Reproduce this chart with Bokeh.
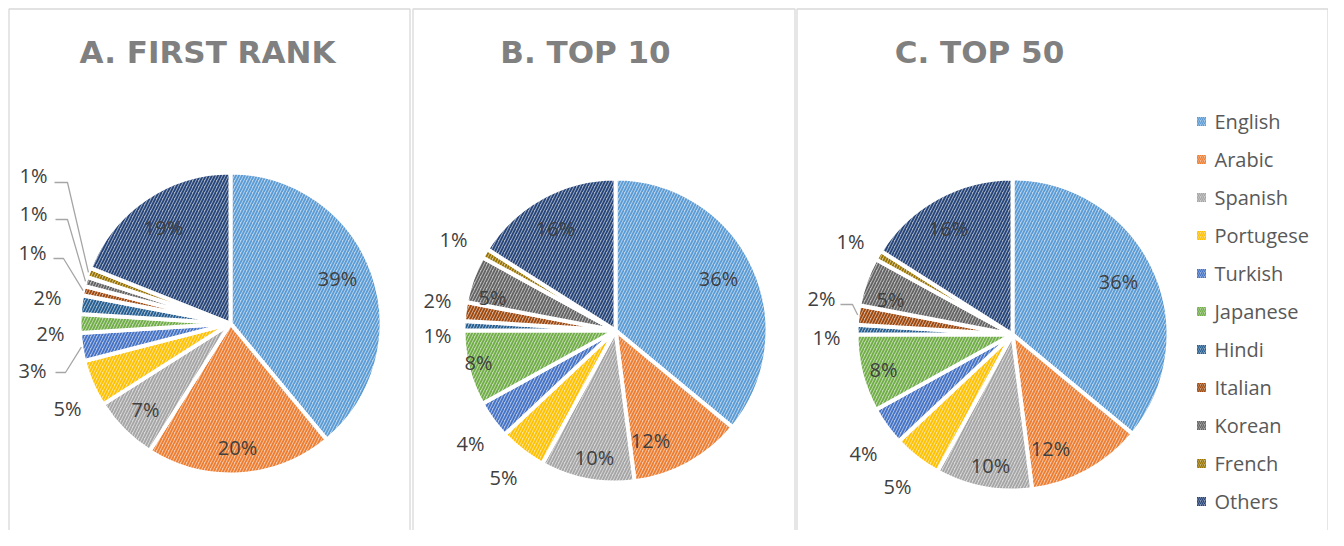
import math
from bokeh.plotting import figure
from bokeh.models import ColumnDataSource, Range1d
from bokeh.embed import file_html
from bokeh.resources import INLINE
from bokeh.core.properties import value

# ---------------- data ----------------
languages = ["English", "Arabic", "Spanish", "Portugese", "Turkish", "Japanese",
             "Hindi", "Italian", "Korean", "French", "Others"]
first_rank = [39, 20, 7, 5, 3, 2, 2, 1, 1, 1, 19]
top_10 = [36, 12, 10, 5, 4, 8, 1, 2, 5, 1, 16]
top_50 = [36, 12, 10, 5, 4, 8, 1, 2, 5, 1, 16]
titles = ["A. FIRST RANK", "B. TOP 10", "C. TOP 50"]

# ---------------- styles ----------------
colors = ["#5B9BD5", "#ED7D31", "#A5A5A5", "#FFC000", "#4472C4", "#70AD47",
          "#255E91", "#9E480E", "#636363", "#997300", "#264478"]
FONT = value("Open Sans")
TITLE_FONT = value("DejaVu Sans")


def tint(c, f=0.6):
    r, g, b = int(c[1:3], 16), int(c[3:5], 16), int(c[5:7], 16)
    r = int(r + (255 - r) * f)
    g = int(g + (255 - g) * f)
    b = int(b + (255 - b) * f)
    return "#%02x%02x%02x" % (r, g, b)


W, H = 1328, 530


def X(rx):
    return rx


def Y(ry):
    return H - ry


p = figure(width=W, height=H, x_range=Range1d(0, W), y_range=Range1d(0, H),
           output_backend="svg", toolbar_location=None, min_border=0)
p.axis.visible = False
p.grid.visible = False
p.outline_line_color = None
p.background_fill_color = "white"
p.border_fill_color = "white"

# panel borders (x_left, x_right in reference px)
panel_edges = [(8.5, 409.5), (412.5, 794.5), (796.5, 1327.5)]
bx, by = [], []
for (l, r) in panel_edges:
    bx.append([X(l), X(l), X(r), X(r)])
    by.append([Y(600), Y(8.5), Y(8.5), Y(600)])
p.multi_line(bx, by, line_color="#d9d9d9", line_width=1.3)

# panel layout: center, radius, title position, label positions
panels = [
    dict(vals=first_rank, cx=230, cy=323, r=151, tx=207, ty=51,
         labels=[(337, 278), (237, 447), (145, 409), (67, 408), (32, 370), (50, 333),
                 (47, 297), (32, 252), (33, 213), (33, 175), (163, 227)],
         leaders={4: (55, 372, 65, 372), 7: (53, 258, 63, 258),
                  8: (55, 219, 67, 219), 9: (54, 182, 67, 182)}),
    dict(vals=top_10, cx=615, cy=330, r=152, tx=585, ty=51,
         labels=[(718, 278), (650, 440), (594, 457), (503, 477), (470, 443), (478, 362),
                 (437, 335), (437, 300), (492, 297), (453, 239), (555, 228)],
         leaders={}),
    dict(vals=top_50, cx=1012, cy=334, r=156, tx=979, ty=51,
         labels=[(1118, 281), (1050, 448), (990, 465), (897, 486), (863, 453), (883, 369),
                 (826, 337), (821, 298), (890, 299), (850, 241), (948, 228)],
         leaders={7: (840, 304, 852, 304)}),
]

for title, pn in zip(titles, panels):
    vals = pn["vals"]
    total = float(sum(vals))
    starts, ends, mids = [], [], []
    cum = 0.0
    for v in vals:
        a1 = math.pi / 2 - 2 * math.pi * cum / total
        cum += v
        a0 = math.pi / 2 - 2 * math.pi * cum / total
        starts.append(a0)
        ends.append(a1)
        mids.append((a0 + a1) / 2)
    src = ColumnDataSource(dict(
        x=[X(pn["cx"])] * len(vals), y=[Y(pn["cy"])] * len(vals),
        start=starts, end=ends,
        fill=[tint(c, 0.58) for c in colors], hatch=colors,
    ))
    p.wedge(x="x", y="y", radius=pn["r"], start_angle="start", end_angle="end",
            fill_color="fill", hatch_pattern="/", hatch_color="hatch",
            hatch_scale=6, hatch_weight=1.8, line_color="white", line_width=4,
            source=src)

    # data labels
    lx = [X(a) for a, b in pn["labels"]]
    ly = [Y(b) for a, b in pn["labels"]]
    p.text(x=lx, y=ly, text=["%d%%" % v for v in vals], text_align="center",
           text_baseline="middle", text_font=FONT, text_font_size="20px",
           text_color="#404040")

    # leader lines
    xs, ys = [], []
    for i, (sx, sy, ex, ey) in pn["leaders"].items():
        tipx = X(pn["cx"]) + pn["r"] * math.cos(mids[i])
        tipy = Y(pn["cy"]) + pn["r"] * math.sin(mids[i])
        xs.append([X(sx), X(ex), tipx])
        ys.append([Y(sy), Y(ey), tipy])
    if xs:
        p.multi_line(xs, ys, line_color="#a6a6a6", line_width=1.3)

    # title
    p.text(x=[X(pn["tx"])], y=[Y(pn["ty"])], text=[title], text_align="center",
           text_baseline="middle", text_font=TITLE_FONT, text_font_style="bold",
           text_font_size="31px", text_color="#808080")

# legend
leg_y = [Y(121 + 38 * i) for i in range(len(languages))]
p.rect(x=[X(1201)] * len(languages), y=leg_y, width=9, height=9,
       fill_color=[tint(c, 0.45) for c in colors], hatch_pattern="/",
       hatch_color=colors, hatch_scale=4, hatch_weight=1.2, line_color=None)
p.text(x=[X(1214)] * len(languages), y=leg_y, text=languages, text_align="left",
       text_baseline="middle", text_font=FONT, text_font_size="20px",
       text_color="#595959")

open("out.html", "w").write(file_html(p, INLINE))
